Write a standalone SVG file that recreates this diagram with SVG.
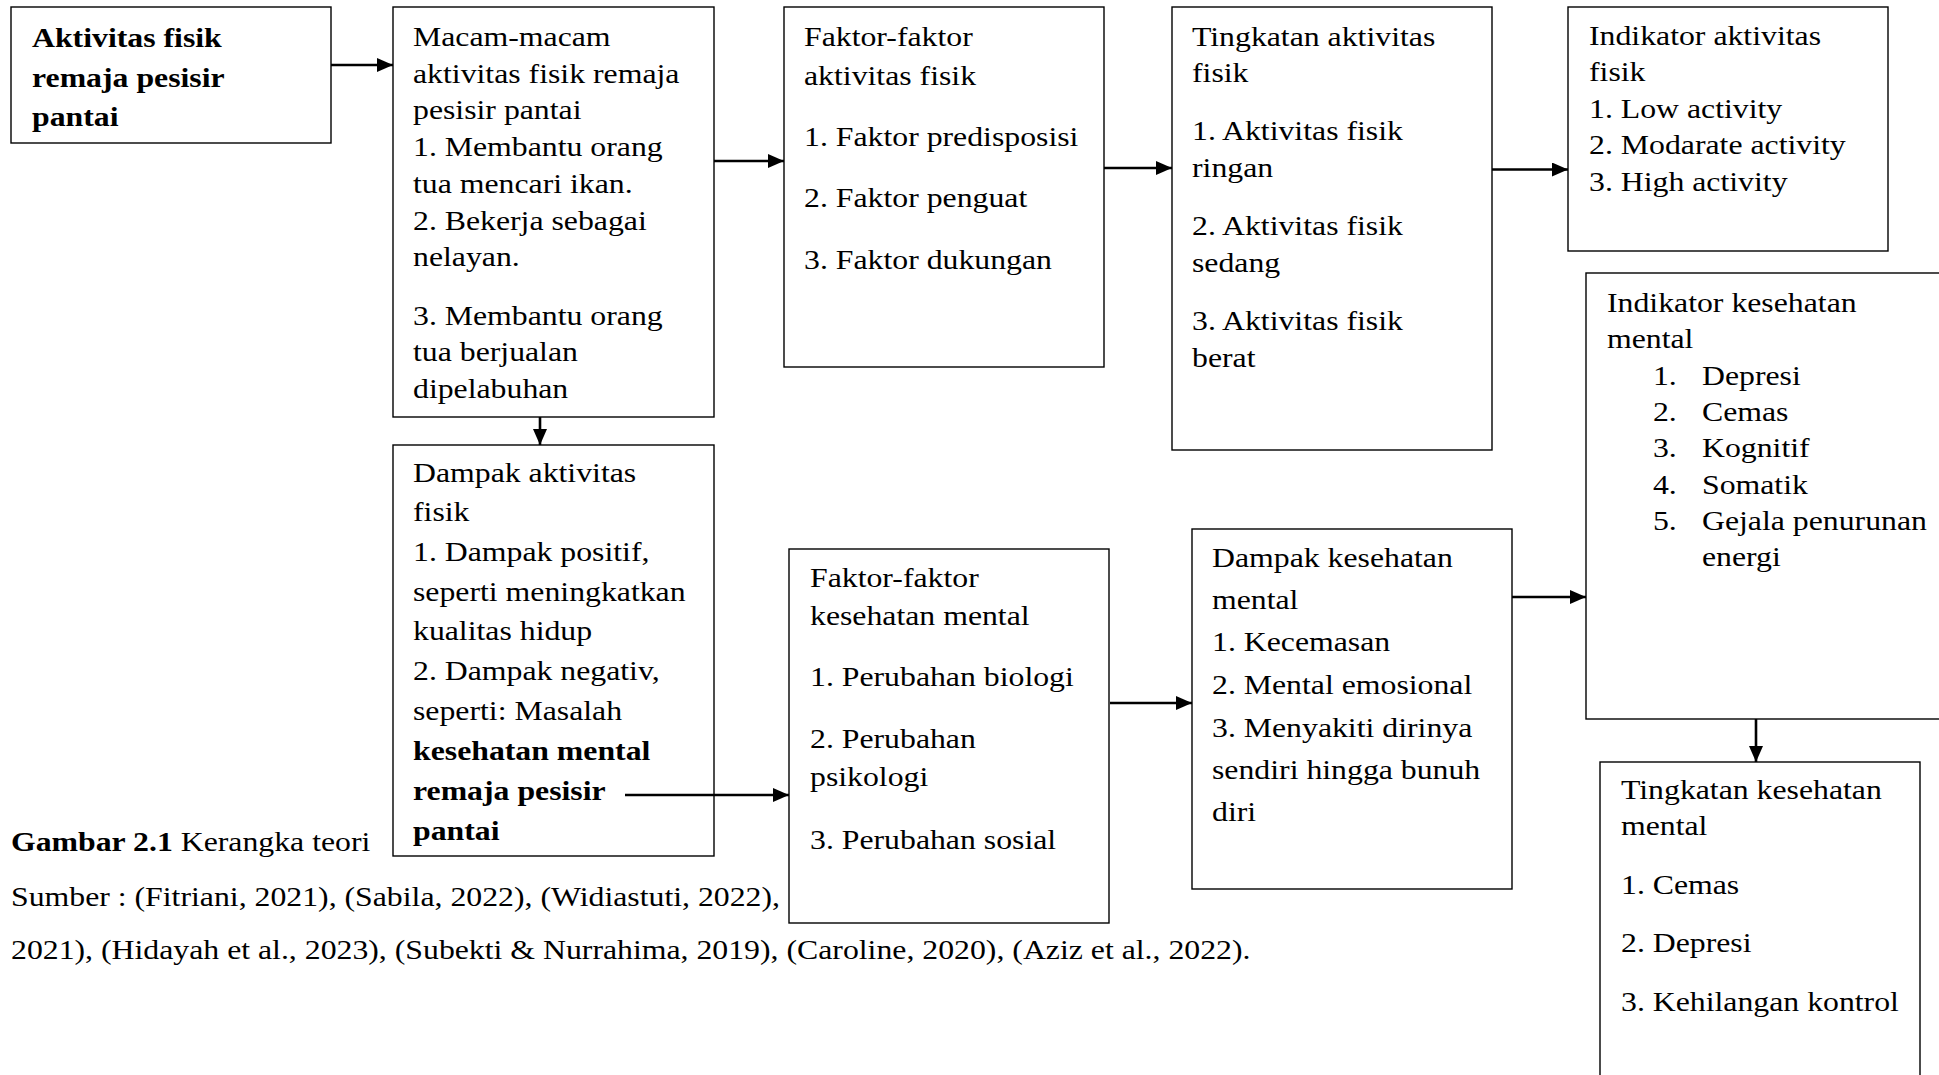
<svg xmlns="http://www.w3.org/2000/svg" width="1939" height="1075" viewBox="0 0 1939 1075">
<style>
.box{fill:#fff;stroke:#000;stroke-width:1.4}
.t{font-family:"Liberation Serif","Times New Roman",serif;font-size:28px;fill:#000}
.b{font-weight:bold}
.c{fill:none;stroke:#000;stroke-width:2.6}
</style>
<defs>
<marker id="ah" markerUnits="userSpaceOnUse" markerWidth="16" markerHeight="14" refX="16" refY="7" orient="auto">
<path d="M0,0 L16,7 L0,14 z" fill="#000"/>
</marker>
</defs>
<rect width="1939" height="1075" fill="#fff"/>
<g id="caption">
<text class="t" transform="translate(11,0) scale(1.135,1)"><tspan x="0" y="851"><tspan class="b">Gambar 2.1</tspan> Kerangka teori</tspan><tspan x="0" y="906">Sumber : (Fitriani, 2021), (Sabila, 2022), (Widiastuti, 2022),</tspan><tspan x="0" y="959">2021), (Hidayah et al., 2023), (Subekti &amp; Nurrahima, 2019), (Caroline, 2020), (Aziz et al., 2022).</tspan></text>
</g>
<g id="nodeA">
<rect class="box" x="11" y="7" width="320" height="136"/>
<text class="t b" transform="translate(32,0) scale(1.135,1)"><tspan x="0" y="47">Aktivitas fisik</tspan><tspan x="0" y="87">remaja pesisir</tspan><tspan x="0" y="126.5">pantai</tspan></text>
</g>
<g id="nodeB">
<rect class="box" x="393" y="7" width="321" height="410"/>
<text class="t" transform="translate(413,0) scale(1.135,1)"><tspan x="0" y="46">Macam-macam</tspan><tspan x="0" y="83">aktivitas fisik remaja</tspan><tspan x="0" y="119.5">pesisir pantai</tspan><tspan x="0" y="156.5">1. Membantu orang</tspan><tspan x="0" y="193">tua mencari ikan.</tspan><tspan x="0" y="230">2. Bekerja sebagai</tspan><tspan x="0" y="266.5">nelayan.</tspan><tspan x="0" y="325">3. Membantu orang</tspan><tspan x="0" y="361.5">tua berjualan</tspan><tspan x="0" y="398">dipelabuhan</tspan></text>
</g>
<g id="nodeC">
<rect class="box" x="784" y="7" width="320" height="360"/>
<text class="t" transform="translate(804,0) scale(1.135,1)"><tspan x="0" y="46">Faktor-faktor</tspan><tspan x="0" y="85">aktivitas fisik</tspan><tspan x="0" y="146">1. Faktor predisposisi</tspan><tspan x="0" y="207">2. Faktor penguat</tspan><tspan x="0" y="269">3. Faktor dukungan</tspan></text>
</g>
<g id="nodeD">
<rect class="box" x="1172" y="7" width="320" height="443"/>
<text class="t" transform="translate(1192,0) scale(1.135,1)"><tspan x="0" y="46">Tingkatan aktivitas</tspan><tspan x="0" y="82">fisik</tspan><tspan x="0" y="140">1. Aktivitas fisik</tspan><tspan x="0" y="177">ringan</tspan><tspan x="0" y="235">2. Aktivitas fisik</tspan><tspan x="0" y="272">sedang</tspan><tspan x="0" y="330">3. Aktivitas fisik</tspan><tspan x="0" y="367">berat</tspan></text>
</g>
<g id="nodeE">
<rect class="box" x="1568" y="7" width="320" height="244"/>
<text class="t" transform="translate(1589,0) scale(1.135,1)"><tspan x="0" y="45.5">Indikator aktivitas</tspan><tspan x="0" y="81">fisik</tspan><tspan x="0" y="118">1. Low activity</tspan><tspan x="0" y="154.5">2. Modarate activity</tspan><tspan x="0" y="191">3. High activity</tspan></text>
</g>
<g id="nodeF">
<rect class="box" x="1586" y="273" width="420" height="446"/>
<text class="t" transform="translate(1607,0) scale(1.135,1)"><tspan x="0" y="312">Indikator kesehatan</tspan><tspan x="0" y="348.5">mental</tspan><tspan x="40.5" y="385">1.</tspan><tspan x="83.7" y="385">Depresi</tspan><tspan x="40.5" y="421">2.</tspan><tspan x="83.7" y="421">Cemas</tspan><tspan x="40.5" y="457.5">3.</tspan><tspan x="83.7" y="457.5">Kognitif</tspan><tspan x="40.5" y="494">4.</tspan><tspan x="83.7" y="494">Somatik</tspan><tspan x="40.5" y="530.5">5.</tspan><tspan x="83.7" y="530.5">Gejala penurunan</tspan><tspan x="83.7" y="566">energi</tspan></text>
</g>
<g id="nodeG">
<rect class="box" x="1192" y="529" width="320" height="360"/>
<text class="t" transform="translate(1212,0) scale(1.135,1)"><tspan x="0" y="567">Dampak kesehatan</tspan><tspan x="0" y="609">mental</tspan><tspan x="0" y="651">1. Kecemasan</tspan><tspan x="0" y="694">2. Mental emosional</tspan><tspan x="0" y="737">3. Menyakiti dirinya</tspan><tspan x="0" y="779">sendiri hingga bunuh</tspan><tspan x="0" y="821">diri</tspan></text>
</g>
<g id="nodeH">
<rect class="box" x="1600" y="762" width="320" height="400"/>
<text class="t" transform="translate(1621,0) scale(1.135,1)"><tspan x="0" y="799">Tingkatan kesehatan</tspan><tspan x="0" y="835.5">mental</tspan><tspan x="0" y="894">1. Cemas</tspan><tspan x="0" y="952.5">2. Depresi</tspan><tspan x="0" y="1011">3. Kehilangan kontrol</tspan></text>
</g>
<g id="nodeI">
<rect class="box" x="393" y="445" width="321" height="411"/>
<text class="t" transform="translate(413,0) scale(1.135,1)"><tspan x="0" y="482">Dampak aktivitas</tspan><tspan x="0" y="521">fisik</tspan><tspan x="0" y="561">1. Dampak positif,</tspan><tspan x="0" y="601">seperti meningkatkan</tspan><tspan x="0" y="640.5">kualitas hidup</tspan><tspan x="0" y="680.5">2. Dampak negativ,</tspan><tspan x="0" y="720">seperti: Masalah</tspan><tspan class="b" x="0" y="760">kesehatan mental</tspan><tspan class="b" x="0" y="800">remaja pesisir</tspan><tspan class="b" x="0" y="840">pantai</tspan></text>
</g>
<g id="nodeJ">
<rect class="box" x="789" y="549" width="320" height="374"/>
<text class="t" transform="translate(810,0) scale(1.135,1)"><tspan x="0" y="587">Faktor-faktor</tspan><tspan x="0" y="625.5">kesehatan mental</tspan><tspan x="0" y="686">1. Perubahan biologi</tspan><tspan x="0" y="748">2. Perubahan</tspan><tspan x="0" y="786.5">psikologi</tspan><tspan x="0" y="849.5">3. Perubahan sosial</tspan></text>
</g>
<g id="connectors">
<line class="c" x1="331" y1="65" x2="393" y2="65" marker-end="url(#ah)"/>
<line class="c" x1="714" y1="161" x2="784" y2="161" marker-end="url(#ah)"/>
<line class="c" x1="1104" y1="168" x2="1172" y2="168" marker-end="url(#ah)"/>
<line class="c" x1="1492" y1="169.5" x2="1568" y2="169.5" marker-end="url(#ah)"/>
<line class="c" x1="540" y1="417" x2="540" y2="445" marker-end="url(#ah)"/>
<line class="c" x1="625" y1="795" x2="789" y2="795" marker-end="url(#ah)"/>
<line class="c" x1="1110" y1="703" x2="1192" y2="703" marker-end="url(#ah)"/>
<line class="c" x1="1512" y1="597" x2="1586" y2="597" marker-end="url(#ah)"/>
<line class="c" x1="1756" y1="719" x2="1756" y2="762" marker-end="url(#ah)"/>
</g>
</svg>
